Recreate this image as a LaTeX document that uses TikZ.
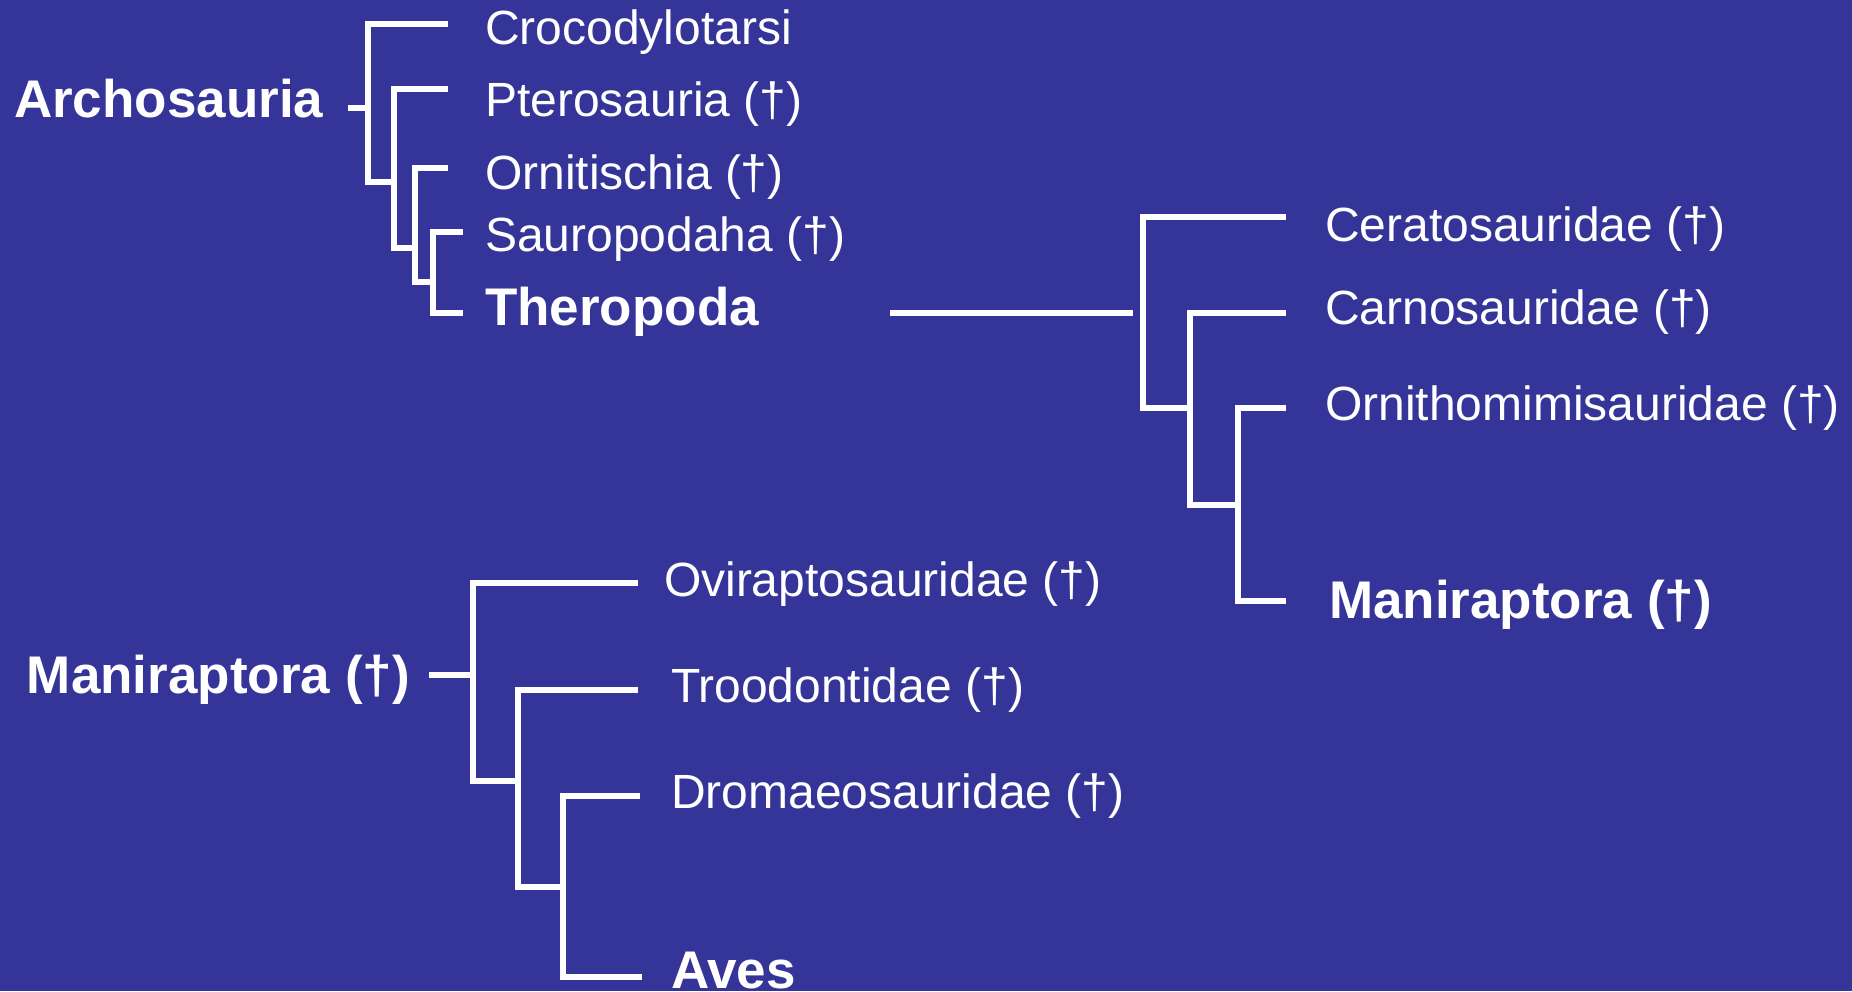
\documentclass[tikz,border=0pt]{standalone}
\usepackage{fontspec}
\setmainfont{Liberation Sans}
\definecolor{bgblue}{RGB}{53,53,153}
\begin{document}
\begin{tikzpicture}[x=1pt,y=-1pt,
  lbl/.style={anchor=base west,inner sep=0pt,outer sep=0pt,text=white,font=\fontsize{48}{58}\selectfont},
  blbl/.style={anchor=base west,inner sep=0pt,outer sep=0pt,text=white,font=\fontsize{53}{64}\selectfont\bfseries},
  br/.style={draw=white,line width=5.6pt,line join=miter}]
\fill[bgblue] (0,0) rectangle (1852,991);
\useasboundingbox (0,0) rectangle (1852,991);

% ---- top tree ----
\node[blbl] (archo) at (14,117) {Archosauria};
\node[lbl] (croc) at (485,44) {Crocodylotarsi};
\node[lbl] (ptero) at (485,116) {Pterosauria (†)};
\node[lbl] (ornit) at (485,189) {Ornitischia (†)};
\node[lbl] (sauro) at (485,251) {Sauropodaha (†)};
\node[blbl] (thero) at (485,325) {Theropoda};

\coordinate (tR0) at (348,108);
\coordinate (tA) at (368,108);
\coordinate (tA1) at (448,24);
\coordinate (tA2) at (394,182);
\coordinate (tB1) at (448,89);
\coordinate (tB2) at (415,248);
\coordinate (tC1) at (448,168);
\coordinate (tC2) at (433,282);
\coordinate (tD1) at (463,232);
\coordinate (tD2) at (463,313);
\draw[br] (tR0) -- (tA);
\draw[br] (tA1) -| (tA) |- (tA2);
\draw[br] (tB1) -| (tA2) |- (tB2);
\draw[br] (tC1) -| (tB2) |- (tC2);
\draw[br] (tD1) -| (tC2) |- (tD2);

% ---- right tree ----
\node[lbl] (cerato) at (1325,241) {Ceratosauridae (†)};
\node[lbl] (carno) at (1325,324) {Carnosauridae (†)};
\node[lbl] (ornitho) at (1325,420) {Ornithomimisauridae (†)};
\node[blbl] (maniR) at (1329,618) {Maniraptora (†)};

\coordinate (rR0) at (890,313);
\coordinate (rR1) at (1133,313);
\coordinate (rA) at (1143,313);
\coordinate (rA1) at (1286,217);
\coordinate (rA2) at (1190,408);
\coordinate (rB1) at (1286,313);
\coordinate (rB2) at (1238,505);
\coordinate (rC1) at (1286,408);
\coordinate (rC2) at (1286,601);
\draw[br] (rR0) -- (rR1);
\draw[br] (rA1) -| (rA) |- (rA2);
\draw[br] (rB1) -| (rA2) |- (rB2);
\draw[br] (rC1) -| (rB2) |- (rC2);

% ---- bottom tree ----
\node[blbl] (maniL) at (27,693) {Maniraptora (†)};
\node[lbl] (ovi) at (664,596) {Oviraptosauridae (†)};
\node[lbl] (troo) at (671,702) {Troodontidae (†)};
\node[lbl] (drom) at (671,808) {Dromaeosauridae (†)};
\node[blbl] (aves) at (671,988) {Aves};

\coordinate (bR0) at (429,675);
\coordinate (bA) at (473,675);
\coordinate (bA1) at (638,583);
\coordinate (bA2) at (518,781);
\coordinate (bB1) at (638,690);
\coordinate (bB2) at (563,887);
\coordinate (bC1) at (640,796);
\coordinate (bC2) at (642,977);
\draw[br] (bR0) -- (bA);
\draw[br] (bA1) -| (bA) |- (bA2);
\draw[br] (bB1) -| (bA2) |- (bB2);
\draw[br] (bC1) -| (bB2) |- (bC2);
\end{tikzpicture}
\end{document}
